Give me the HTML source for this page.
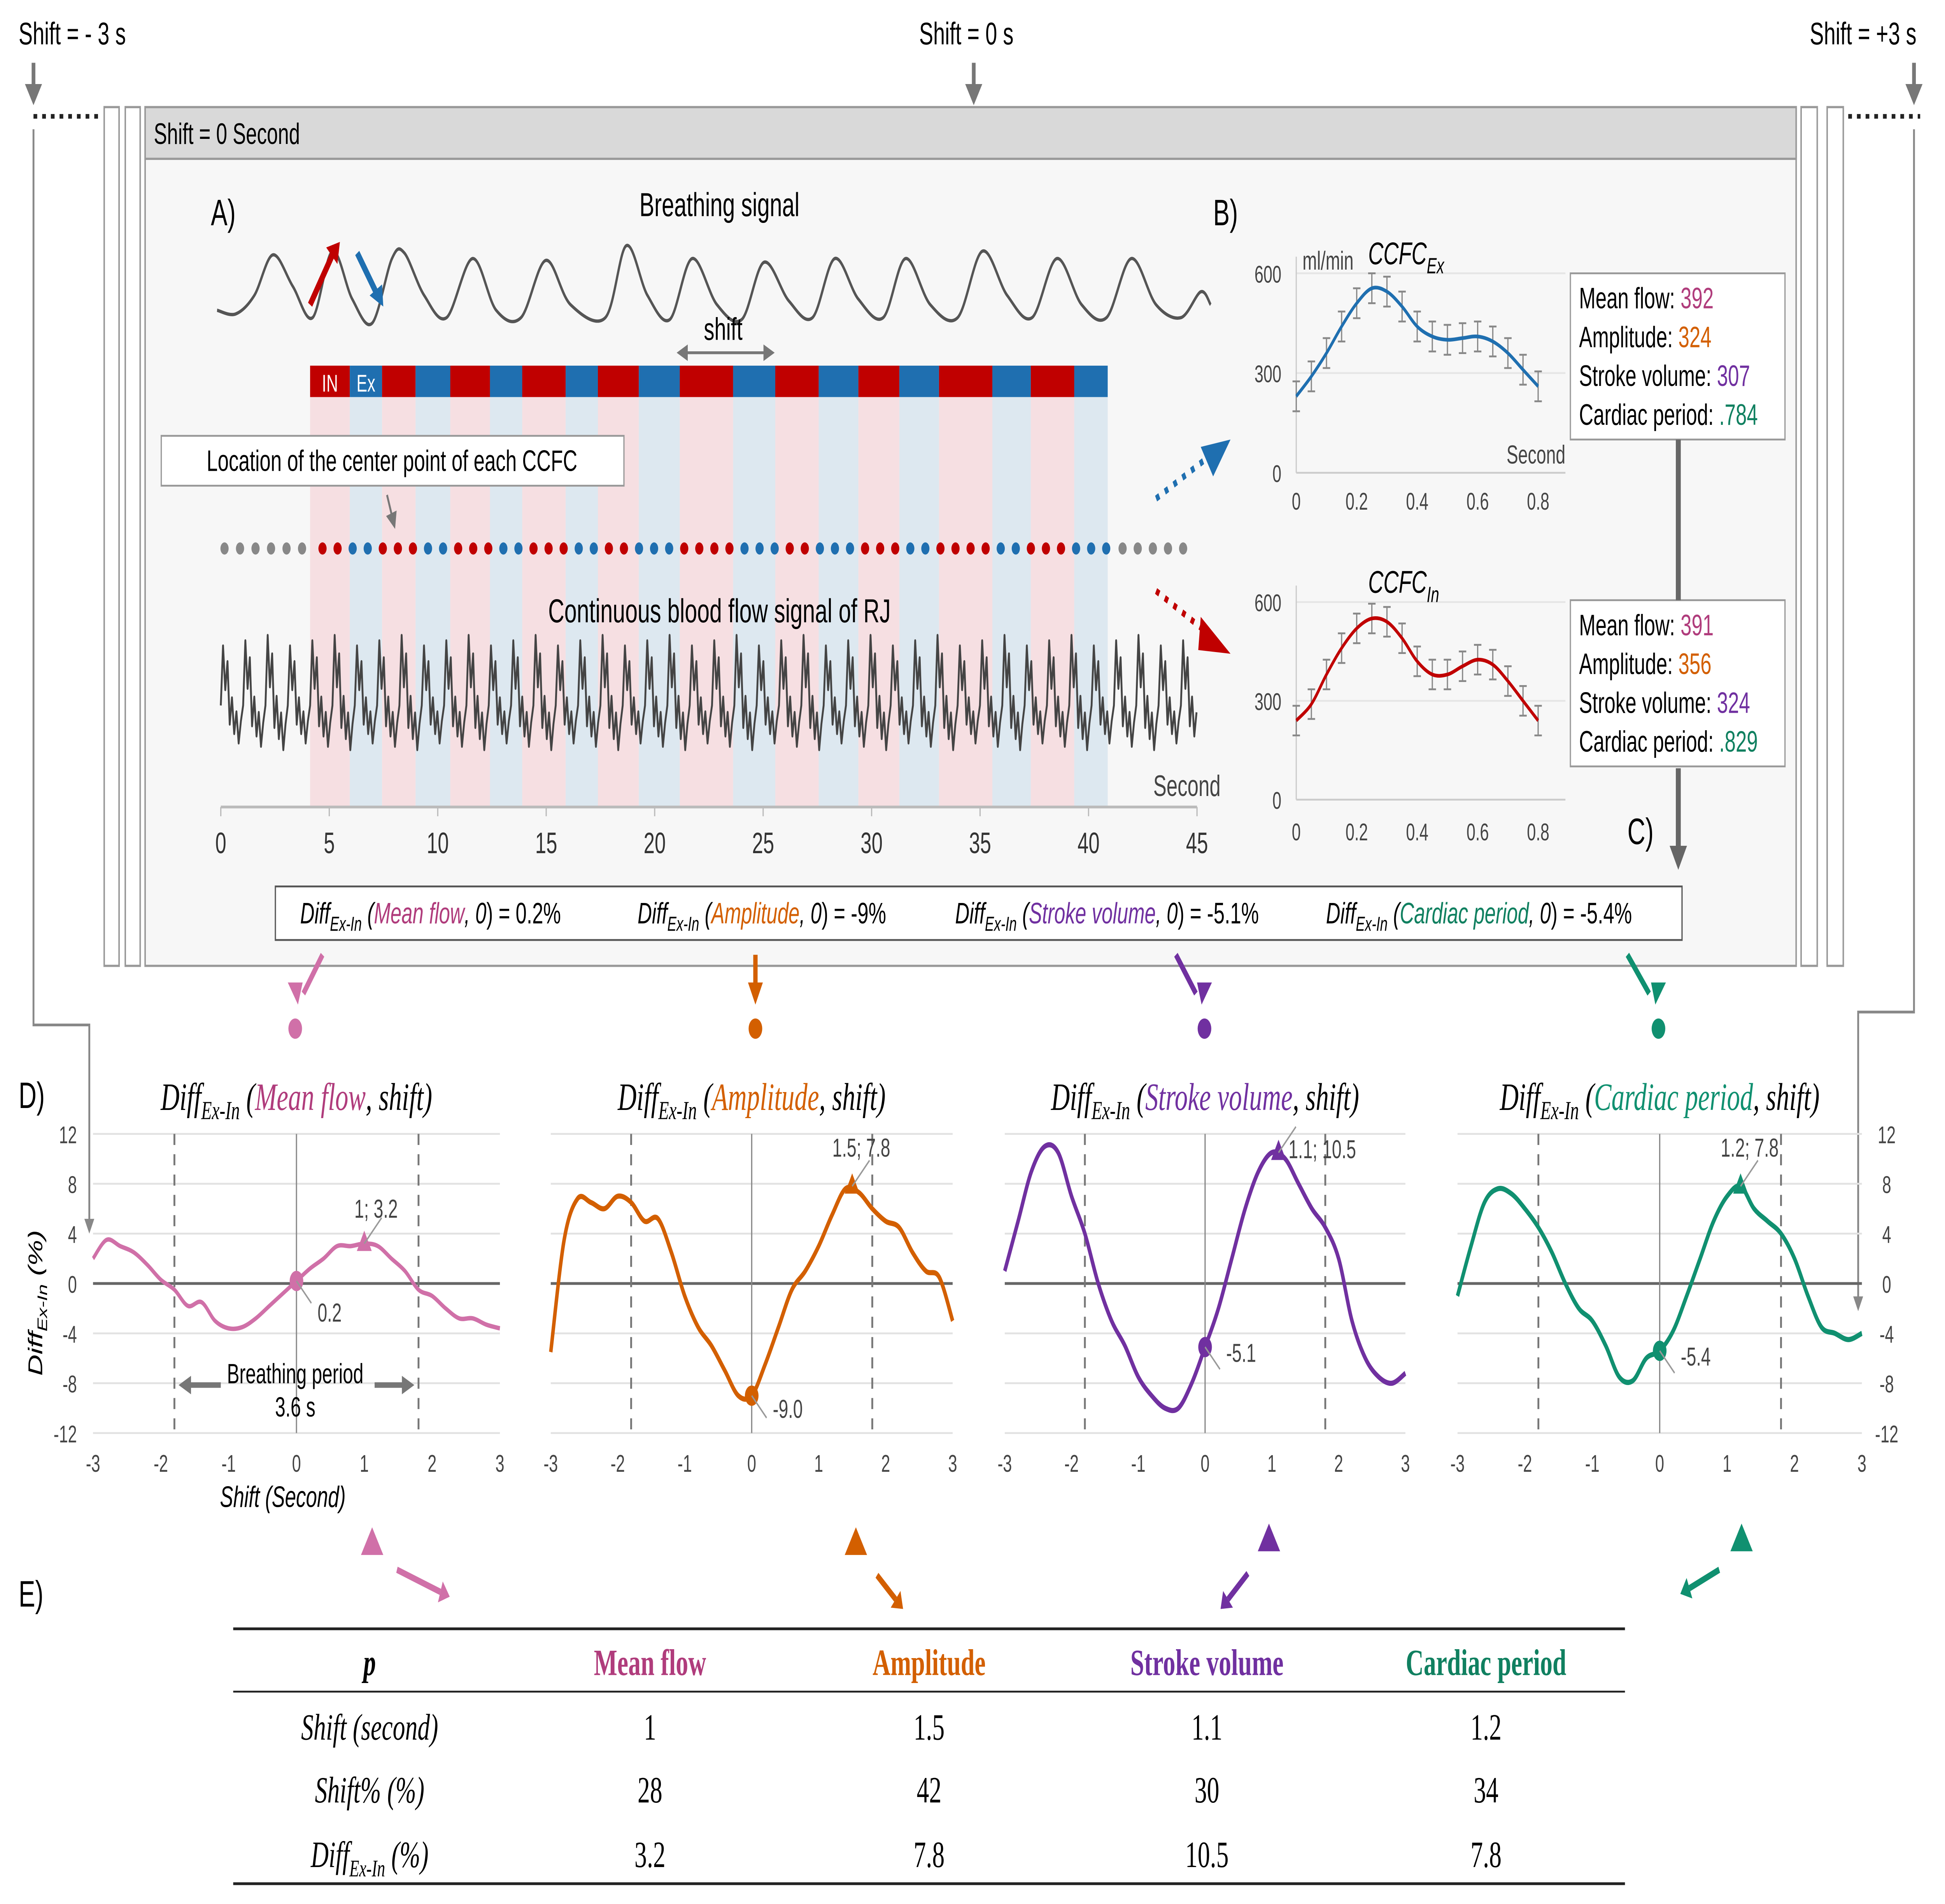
<!DOCTYPE html>
<html><head><meta charset="utf-8">
<style>
html,body{margin:0;padding:0;background:#fff;overflow:hidden;width:100vw;height:100vh;}
svg{display:block;width:100vw;height:100vh;}
text{font-family:"Liberation Sans",sans-serif;}
.ser{font-family:"Liberation Serif",serif;}
</style></head>
<body>
<svg id="fig" viewBox="0 0 1568 1031" preserveAspectRatio="none" xmlns="http://www.w3.org/2000/svg">
<defs>
<marker id="ag" markerWidth="6" markerHeight="6" refX="5" refY="3" orient="auto"><path d="M0,0 L6,3 L0,6 z" fill="#777"/></marker>
</defs>
<text x="15" y="24" font-size="17">Shift = - 3 s</text>
<text x="741" y="24" font-size="17">Shift = 0 s</text>
<text x="1459" y="24" font-size="17">Shift = +3 s</text>
<g fill="#777" stroke="#777">
<line x1="27" y1="34" x2="27" y2="48" stroke-width="3"/><path d="M21,46 L33,46 L27,56 z"/>
<line x1="785" y1="34" x2="785" y2="48" stroke-width="3"/><path d="M779,46 L791,46 L785,56 z"/>
<line x1="1543" y1="34" x2="1543" y2="48" stroke-width="3"/><path d="M1537,46 L1549,46 L1543,56 z"/>
</g>
<line x1="27" y1="63" x2="82" y2="63" stroke="#222" stroke-width="2.5" stroke-dasharray="3,4"/>
<line x1="1490" y1="63" x2="1548" y2="63" stroke="#222" stroke-width="2.5" stroke-dasharray="3,4"/>
<g fill="#fff" stroke="#999" stroke-width="1.2">
<rect x="84" y="58" width="12" height="465"/><rect x="101" y="58" width="12" height="465"/>
<rect x="1452" y="58" width="13" height="465"/><rect x="1473" y="58" width="13" height="465"/>
</g>
<rect x="117" y="58" width="1331" height="465" fill="#f7f7f7" stroke="#999" stroke-width="1.2"/>
<rect x="117" y="58" width="1331" height="28" fill="#d9d9d9" stroke="#999" stroke-width="1.2"/>
<text x="124" y="78" font-size="16">Shift = 0 Second</text>
<path d="M27,70 L27,555 L72,555 L72,662" fill="none" stroke="#888" stroke-width="1.5"/>
<path d="M68,660 L76,660 L72,668 z" fill="#888"/>
<path d="M1543,70 L1543,548 L1498,548 L1498,704" fill="none" stroke="#888" stroke-width="1.5"/>
<path d="M1494,702 L1502,702 L1498,710 z" fill="#888"/>
<text x="170" y="122" font-size="20">A)</text>
<text x="580" y="117" font-size="18" text-anchor="middle">Breathing signal</text>
<text x="978" y="122" font-size="20">B)</text>
<g id="panelA"></g>
<g id="ccfc"></g>
<g id="dcharts"></g>
<g id="table"></g>
</svg>
<script>
var axisTicks = [0,5,10,15,20,25,30,35,40,45];
var breathX = [175,190,205,220,236,252,268,284,300,316,326,342,360,381,400,420,440,460,488,505,522,540,558,578,598,616,636,655,673,692,712,730,750,772,792,812,832,852,872,892,912,932,952,968,976];
var breathY = [168,170,160,138,155,172,136,162,175,140,137,160,172,140,168,172,141,165,172,133,160,173,140,165,173,142,163,172,140,162,172,140,165,172,136,160,172,140,165,172,140,165,172,158,165];
var bandEdges = [250,282,308,335,363,395,421,456,482,515,548,591,625,660,692,725,757,800,831,866,893];
var beatPattern = [0,-38,-10,-28,12,-5,18,4,24,10];
var ccfcX = [0,0.05,0.1,0.15,0.2,0.25,0.3,0.35,0.4,0.45,0.5,0.55,0.6,0.65,0.7,0.75,0.8];
var ccfcEx = [230,290,360,440,510,555,545,500,440,410,400,405,410,395,360,310,260];
var ccfcIn = [240,290,380,460,520,550,540,490,420,380,380,405,425,410,360,300,240];
var ccfcYTicks = [0,300,600];
var ccfcXTicks = [0,0.2,0.4,0.6,0.8];
var shiftX = [-3,-2.8,-2.6,-2.4,-2.2,-2,-1.8,-1.6,-1.4,-1.2,-1,-0.8,-0.6,-0.4,-0.2,0,0.2,0.4,0.6,0.8,1,1.2,1.4,1.6,1.8,2,2.2,2.4,2.6,2.8,3];
var meanFlow = [2,3.5,3,2.5,1.5,0.3,-0.5,-1.8,-1.5,-3,-3.6,-3.5,-2.8,-1.8,-0.8,0.2,1.2,2,3,3,3.2,3,2,1,-0.5,-1,-2,-2.8,-2.8,-3.3,-3.6];
var amplitude = [-5.5,3.5,6.8,6.5,6,7,6.5,5,5.2,2.5,-1,-3.5,-5,-7,-9,-9,-6.5,-3.5,-0.5,1,3,5.5,7.6,7.3,6,5,4.5,2.5,1,0.5,-3];
var strokeVol = [1,5,9,11,10.5,7,4,0,-3,-5,-7.5,-9,-10,-10,-8,-5.1,-2,2,6,9,10.5,10,8,6,4.5,2,-3,-6,-7.5,-8,-7.2];
var cardiacPer = [-1,3,6.5,7.6,7.2,6,4.5,2.5,0,-2,-3,-5,-7.5,-7.8,-6,-5.4,-3.8,-1,2,5,7,7.8,6,5,4,2,-1,-3.5,-4,-4.5,-4];
var yTicks = [-12,-8,-4,0,4,8,12];
var xTicks = [-3,-2,-1,0,1,2,3];
var peakShift = [1,1.5,1.1,1.2];
var peakVal = [3.2,7.8,10.5,7.8];
var zeroVal = [0.2,-9.0,-5.1,-5.4];
var seriesNames = ["Mean flow","Amplitude","Stroke volume","Cardiac period"];
var tShift = ["1","1.5","1.1","1.2"];
var tShiftPct = ["28","42","30","34"];
var tDiff = ["3.2","7.8","10.5","7.8"];

var NS="http://www.w3.org/2000/svg";
function mk(tag,attrs,parent,txt){var e=document.createElementNS(NS,tag);for(var k in attrs)e.setAttribute(k,attrs[k]);if(txt!==undefined)e.textContent=txt;parent.appendChild(e);return e;}
function smooth(pts){var d="M"+pts[0][0]+","+pts[0][1];for(var i=0;i<pts.length-1;i++){var p0=pts[Math.max(0,i-1)],p1=pts[i],p2=pts[i+1],p3=pts[Math.min(pts.length-1,i+2)];d+=" C"+(p1[0]+(p2[0]-p0[0])/6)+","+(p1[1]+(p2[1]-p0[1])/6)+" "+(p2[0]-(p3[0]-p1[0])/6)+","+(p2[1]-(p3[1]-p1[1])/6)+" "+p2[0]+","+p2[1];}return d;}

var A=document.getElementById('panelA');
var ax=function(v){return 178+v*(965-178)/45;};
for(var i=0;i<bandEdges.length-1;i++){
  var r=mk('rect',{x:bandEdges[i],y:215,width:bandEdges[i+1]-bandEdges[i],height:222,fill:i%2?'#dde8f0':'#f6dfe2'},A);
  
  
  var b=mk('rect',{x:bandEdges[i],y:198,width:bandEdges[i+1]-bandEdges[i],height:17,fill:i%2?'#1f6fb0':'#c00000'},A);
  
  
}
var t1=mk('text',{x:266,y:212,'font-size':13,fill:'#fff','text-anchor':'middle'},A,'IN');


var t2=mk('text',{x:295,y:212,'font-size':13,fill:'#fff','text-anchor':'middle'},A,'Ex');


var bp=[];for(var i=0;i<breathX.length;i++)bp.push([breathX[i],breathY[i]]);
var bl=mk('path',{d:smooth(bp),fill:'none',stroke:'#555',"stroke-width":1.8},A);


mk('line',{x1:250,y1:165,x2:268,y2:138,stroke:'#c00000','stroke-width':4},A);
mk('path',{d:'M263,134 L274,131 L272,143 z',fill:'#c00000'},A);
mk('line',{x1:288,y1:137,x2:303,y2:158,stroke:'#1f6fb0','stroke-width':4},A);
mk('path',{d:'M298,160 L309,166 L308,154 z',fill:'#1f6fb0'},A);
mk('line',{x1:547,y1:191,x2:623,y2:191,stroke:'#777','stroke-width':1.5,'marker-end':'url(#ag)'},A);
mk('line',{x1:623,y1:191,x2:547,y2:191,stroke:'#777','stroke-width':1.5,'marker-end':'url(#ag)'},A);
var st=mk('text',{x:583,y:184,'font-size':17,'text-anchor':'middle'},A,'shift');


var lb=mk('rect',{x:130,y:236,width:373,height:27,fill:'#fff',stroke:'#999'},A);


mk('text',{x:316,y:255,'font-size':16,'text-anchor':'middle'},A,'Location of the center point of each CCFC');
mk('line',{x1:312,y1:268,x2:318,y2:285,stroke:'#777','stroke-width':1.5,'marker-end':'url(#ag)'},A);
for(var x=181;x<=244;x+=12.5){var d=mk('circle',{cx:x,cy:297,r:3.3,fill:'#888'},A);}
for(var x=260;x<=892;x+=12.15){var k=0;while(k<bandEdges.length-2&&x>bandEdges[k+1])k++;var d=mk('circle',{cx:x,cy:297,r:3.3,fill:k%2?'#1f6fb0':'#c00000'},A);}
for(var x=905;x<=965;x+=12.2){var d=mk('circle',{cx:x,cy:297,r:3.3,fill:'#888'},A);}
var ct=mk('text',{x:580,y:337,'font-size':18,'text-anchor':'middle'},A,'Continuous blood flow signal of RJ');


var fp=[];var n=0;for(var x=178;x<=965;x+=1.8){fp.push([x,382+beatPattern[n%beatPattern.length]*(0.85+0.15*((Math.floor(n/10))%3)/2)]);n++;}
var fl=mk('polyline',{points:fp.map(function(p){return p[0].toFixed(1)+','+p[1].toFixed(1)}).join(' '),fill:'none',stroke:'#444','stroke-width':1.5,'stroke-linejoin':'round'},A);


var al=mk('line',{x1:178,y1:437,x2:965,y2:437,stroke:'#bbb','stroke-width':1.5},A);


axisTicks.forEach(function(v){mk('line',{x1:ax(v),y1:437,x2:ax(v),y2:442,stroke:'#bbb'},A);var t=mk('text',{x:ax(v),y:462,'font-size':16,'text-anchor':'middle',fill:'#333'},A,String(v));});
mk('text',{x:984,y:431,'font-size':16,'text-anchor':'end',fill:'#444'},A,'Second');
mk('line',{x1:932,y1:270,x2:975,y2:247,stroke:'#1f6fb0','stroke-width':3.5,'stroke-dasharray':'3,5'},A);
mk('path',{d:'M968,242 L992,238 L978,258 z',fill:'#1f6fb0'},A);
mk('line',{x1:932,y1:320,x2:972,y2:342,stroke:'#c00000','stroke-width':3.5,'stroke-dasharray':'3,5'},A);
mk('path',{d:'M968,334 L992,354 L966,352 z',fill:'#c00000'},A);

var C=document.getElementById('ccfc');
function ccfc(y600,y0,yl,vals,col,title,name){
  var g=mk('g',{},C);
  var X=function(v){return 1045+v*243.75;},Y=function(v){return y0+(y600-y0)*v/600;};
  ccfcYTicks.forEach(function(v){mk('line',{x1:1045,y1:Y(v),x2:1262,y2:Y(v),stroke:v?'#e6e6e6':'#ccc'},g);var t=mk('text',{x:1033,y:Y(v)+5,'font-size':13,'text-anchor':'end',fill:'#444'},g,String(v));});
  mk('line',{x1:1045,y1:Y(650),x2:1045,y2:y0,stroke:'#ccc'},g);
  ccfcXTicks.forEach(function(v){var t=mk('text',{x:X(v),y:yl,'font-size':13,'text-anchor':'middle',fill:'#444'},g,String(v));});
  var pts=[];for(var i=0;i<ccfcX.length;i++){pts.push([X(ccfcX[i]),Y(vals[i])]);}
  for(var i=0;i<vals.length;i++){var xe=X(ccfcX[i]);var e1=Y(vals[i]+45),e2=Y(vals[i]-45);mk('line',{x1:xe,y1:e1,x2:xe,y2:e2,stroke:'#888'},g);mk('line',{x1:xe-3,y1:e1,x2:xe+3,y2:e1,stroke:'#888'},g);mk('line',{x1:xe-3,y1:e2,x2:xe+3,y2:e2,stroke:'#888'},g);}
  var p=mk('path',{d:smooth(pts),fill:'none',stroke:col,'stroke-width':2},g);
  var tt=mk('text',{x:1103,y:y600-5,'font-size':17,'font-style':'italic'},g,'CCFC');mk('tspan',{'font-size':12,dy:5},tt,title);
}
ccfc(148,256,276,ccfcEx,'#1f6fb0','Ex','ccfc-ex-chart');
ccfc(326,433,455,ccfcIn,'#c00000','In','ccfc-in-chart');
mk('text',{x:1050,y:146,'font-size':14,fill:'#444'},C,'ml/min');
mk('text',{x:1262,y:251,'font-size':14,'text-anchor':'end',fill:'#444'},C,'Second');
function statBox(y,vals,name){
  var g=mk('g',{},C);
  mk('rect',{x:1266,y:y,width:173,height:90,fill:'#fff',stroke:'#999'},g);
  var labs=['Mean flow: ','Amplitude: ','Stroke volume: ','Cardiac period: '],cols=['#b03c7c','#d35f00','#7030a0','#108060'];
  for(var i=0;i<4;i++){var t=mk('text',{x:1273,y:y+19+i*21,'font-size':16},g,labs[i]);mk('tspan',{fill:cols[i]},t,vals[i]);}
}
statBox(148,['392','324','307','.784'],'ex-stats-box');
statBox(325,['391','356','324','.829'],'in-stats-box');
mk('line',{x1:1353,y1:238,x2:1353,y2:325,stroke:'#666','stroke-width':4},C);
mk('line',{x1:1353,y1:416,x2:1353,y2:460,stroke:'#666','stroke-width':4},C);
mk('path',{d:'M1346,458 L1360,458 L1353,471 z',fill:'#666'},C);
mk('text',{x:1312,y:457,'font-size':20},C,'C)');
var db=mk('rect',{x:222,y:480,width:1134,height:29,fill:'#fff',stroke:'#555'},C);


var dxs=[242,514,770,1069],dv=[') = 0.2%',') = -9%',') =  -5.1%',') = -5.4%'],sc=['#b03c7c','#d35f00','#7030a0','#108060'];
for(var i=0;i<4;i++){var t=mk('text',{x:dxs[i],y:500,'font-size':16,'font-style':'italic'},C,'Diff');mk('tspan',{'font-size':11,dy:4},t,'Ex-In');mk('tspan',{dy:-4},t,' (');mk('tspan',{fill:sc[i]},t,seriesNames[i]);mk('tspan',{},t,', 0');mk('tspan',{'font-style':'normal'},t,dv[i]);}

var D=document.getElementById('dcharts');
mk('text',{x:15,y:600,'font-size':20},D,'D)');
var lineCols=['#d070a8','#d35f00','#7030a0','#109070'];
var x0s=[75,444,810,1175],x1s=[403,768,1133,1501];
var allSeries=[meanFlow,amplitude,strokeVol,cardiacPer];
var arrowFrom=[[260,517],[609,517],[948,517],[1312,517]];
var dotX=[238,609,971,1337];
for(var c=0;c<4;c++){
  var g=mk('g',{},D);
  var a=x0s[c],b=x1s[c],col=lineCols[c];
  var X=function(v){return a+(v+3)*(b-a)/6;},Y=function(v){return 695-v*6.75;};
  yTicks.forEach(function(v){mk('line',{x1:a,y1:Y(v),x2:b,y2:Y(v),stroke:v?'#e2e2e2':'#666','stroke-width':v?1:1.5},g);});
  if(c===0)yTicks.forEach(function(v){var t=mk('text',{x:62,y:Y(v)+5,'font-size':13,'text-anchor':'end',fill:'#444'},g,String(v));});
  if(c===3)yTicks.forEach(function(v){var t=mk('text',{x:1521,y:Y(v)+5,'font-size':13,'text-anchor':'middle',fill:'#444'},g,String(v));});
  xTicks.forEach(function(v){var t=mk('text',{x:X(v),y:797,'font-size':13,'text-anchor':'middle',fill:'#444'},g,String(v));});
  mk('line',{x1:X(0),y1:Y(12),x2:X(0),y2:Y(-12),stroke:'#888'},g);
  [-1.8,1.8].forEach(function(v){mk('line',{x1:X(v),y1:Y(12),x2:X(v),y2:Y(-12),stroke:'#777','stroke-width':1.5,'stroke-dasharray':'6,5'},g);});
  var s=allSeries[c],pts=[];for(var i=0;i<shiftX.length;i++)pts.push([X(shiftX[i]),Y(s[i])]);
  var p=mk('path',{d:smooth(pts),fill:'none',stroke:col,'stroke-width':c?2.8:2.4},g);
  
  
  var m1=mk('circle',{cx:X(0),cy:Y(zeroVal[c]),r:5.5,fill:col},g);
  
  
  var px=X(peakShift[c]),py=Y(peakVal[c]);
  var m2=mk('path',{d:'M'+px+','+(py-7)+' L'+(px+6)+','+(py+4)+' L'+(px-6)+','+(py+4)+' z',fill:col},g);
  
  
  mk('line',{x1:px,y1:py,x2:px+14,y2:py-14,stroke:'#999'},g);
  mk('text',{x:px+(c===0?-8:c===2?8:-16),y:py-(c===2?-3:c===0?14:16),'font-size':14,fill:'#444'},g,peakShift[c]+'; '+peakVal[c]);
  mk('line',{x1:X(0),y1:Y(zeroVal[c]),x2:X(0)+12,y2:Y(zeroVal[c])+12,stroke:'#999'},g);
  mk('text',{x:X(0)+17,y:Y(zeroVal[c])+(c===0?22:c===1?12:8),'font-size':14,fill:'#444'},g,zeroVal[c].toFixed(1));
  var tt=mk('text',{x:(a+b)/2,y:601,'font-size':21,'font-style':'italic','text-anchor':'middle'},g);tt.setAttribute('class','ser');
  mk('tspan',{},tt,'Diff');mk('tspan',{'font-size':14,dy:5},tt,'Ex-In');mk('tspan',{dy:-5},tt,' (');mk('tspan',{fill:c===0?'#b03c7c':col},tt,seriesNames[c]);mk('tspan',{},tt,', shift)');
  var af=arrowFrom[c];
  mk('line',{x1:af[0],y1:af[1],x2:dotX[c]+(af[0]-dotX[c])*0.3,y2:538,stroke:col,'stroke-width':3.5},D);
  mk('path',{d:'M'+(dotX[c]-6)+',532 L'+(dotX[c]+6)+',532 L'+(dotX[c]+(af[0]-dotX[c])*0.1)+',544 z',fill:col},D);
  var dd=mk('circle',{cx:dotX[c],cy:557,r:5.5,fill:col},D);
  
  
}
var yt=mk('text',{transform:'translate(34,745) rotate(-90)','font-size':16,'font-style':'italic'},D,'Diff');mk('tspan',{'font-size':11,dy:4},yt,'Ex-In');mk('tspan',{dy:-4},yt,' (%)');


var xt=mk('text',{x:228,y:816,'font-size':16,'font-style':'italic','text-anchor':'middle'},D,'Shift (Second)');


mk('text',{x:238,y:749,'font-size':15,'text-anchor':'middle'},D,'Breathing period');
mk('text',{x:238,y:767,'font-size':15,'text-anchor':'middle'},D,'3.6 s');
mk('line',{x1:178,y1:750,x2:152,y2:750,stroke:'#777','stroke-width':3},D);mk('path',{d:'M144,750 L154,745 L154,755 z',fill:'#777'},D);
mk('line',{x1:302,y1:750,x2:326,y2:750,stroke:'#777','stroke-width':3},D);mk('path',{d:'M334,750 L324,745 L324,755 z',fill:'#777'},D);
var triX=[300,690,1023,1404],triY=[836,836,834,834];
var arrows=[[320,850,355,862],[707,853,722,866],[1006,852,990,866],[1386,850,1362,860]];
for(var c=0;c<4;c++){var col=lineCols[c];var tr=mk('path',{d:'M'+triX[c]+','+(triY[c]-9)+' L'+(triX[c]+9)+','+(triY[c]+6)+' L'+(triX[c]-9)+','+(triY[c]+6)+' z',fill:col},D);


var ar=arrows[c];mk('line',{x1:ar[0],y1:ar[1],x2:ar[2],y2:ar[3],stroke:col,'stroke-width':3.5},D);
var ang=Math.atan2(ar[3]-ar[1],ar[2]-ar[0]),hx=ar[2]+Math.cos(ang)*8,hy=ar[3]+Math.sin(ang)*8;
mk('path',{d:'M'+hx+','+hy+' L'+(ar[2]+Math.sin(ang)*6)+','+(ar[3]-Math.cos(ang)*6)+' L'+(ar[2]-Math.sin(ang)*6)+','+(ar[3]+Math.cos(ang)*6)+' z',fill:col},D);}
mk('text',{x:15,y:870,'font-size':20},D,'E)');

var T=document.getElementById('table');
mk('line',{x1:188,y1:882,x2:1310,y2:882,stroke:'#222','stroke-width':1.5},T);
mk('line',{x1:188,y1:916,x2:1310,y2:916,stroke:'#222','stroke-width':1},T);
mk('line',{x1:188,y1:1020,x2:1310,y2:1020,stroke:'#222','stroke-width':1.5},T);
var colX=[524,749,973,1198],hcols=['#b03c7c','#d35f00','#7030a0','#108060'];
mk('text',{x:298,y:907,'font-size':20,'font-weight':'bold','font-style':'italic','text-anchor':'middle',class:'ser'},T,'p');
for(var c=0;c<4;c++){var t=mk('text',{x:colX[c],y:907,'font-size':20,'font-weight':'bold','text-anchor':'middle',fill:hcols[c],class:'ser'},T,seriesNames[c]);}
var rowsY=[942,976,1011],rowVals=[tShift,tShiftPct,tDiff];
mk('text',{x:298,y:942,'font-size':20,'font-style':'italic','text-anchor':'middle',class:'ser'},T,'Shift (second)');
mk('text',{x:298,y:976,'font-size':20,'font-style':'italic','text-anchor':'middle',class:'ser'},T,'Shift% (%)');
var rl=mk('text',{x:298,y:1011,'font-size':20,'font-style':'italic','text-anchor':'middle',class:'ser'},T,'Diff');mk('tspan',{'font-size':13,dy:5},rl,'Ex-In');mk('tspan',{dy:-5},rl,' (%)');
for(var r=0;r<3;r++)for(var c=0;c<4;c++){var t=mk('text',{x:colX[c],y:rowsY[r],'font-size':20,'text-anchor':'middle',class:'ser'},T,rowVals[r][c]);}
</script>
</body></html>
